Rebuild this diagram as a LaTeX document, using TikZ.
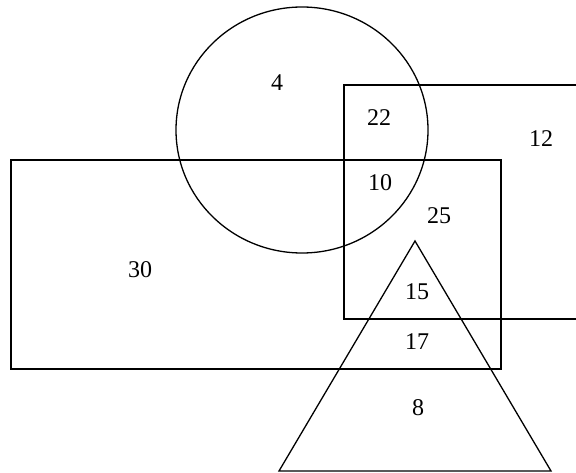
\documentclass[tikz,border=0pt]{standalone}
\usepackage{fontspec}
\setmainfont{Liberation Serif}
\begin{document}
\begin{tikzpicture}[x=1pt,y=-1pt,
  shape line/.style={draw=black,line width=1.3pt},
  num/.style={font=\fontsize{24}{28}\selectfont,inner sep=0pt}]
\useasboundingbox (0,0) rectangle (576,473);
% circle
\draw[shape line] (302,130) ellipse [x radius=126, y radius=123];
% right rectangle (open to the right edge)
\draw[shape line] (576,85) -- (344,85) -- (344,319) -- (576,319);
% wide rectangle
\draw[shape line] (11,160) rectangle (501,369);
% triangle
\coordinate (apex) at (415,241);
\coordinate (bl) at (279,471);
\coordinate (br) at (551,471);
\draw[shape line] (apex) -- (bl) -- (br) -- cycle;
% labels
\node[num] (n4)  at (277,83)  {4};
\node[num] (n22) at (379,118) {22};
\node[num] (n12) at (541,139) {12};
\node[num] (n10) at (380,183) {10};
\node[num] (n25) at (439,216) {25};
\node[num] (n30) at (140,270) {30};
\node[num] (n15) at (417,292) {15};
\node[num] (n17) at (417,342) {17};
\node[num] (n8)  at (418,408) {8};
\end{tikzpicture}
\end{document}
